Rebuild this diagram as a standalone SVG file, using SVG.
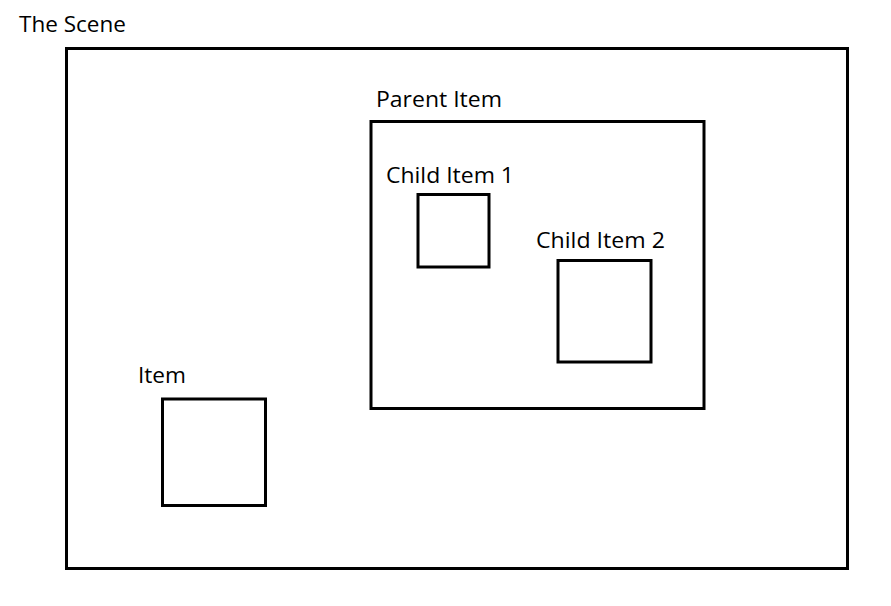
<svg xmlns="http://www.w3.org/2000/svg" width="891" height="606" viewBox="0 0 891 606">
<style>
.box{fill:none;stroke:#000;stroke-width:3}
.lbl{font-family:"Open Sans","Liberation Sans",sans-serif;font-size:22.5px;fill:#000}
</style>
<rect width="891" height="606" fill="#fff"/>
<g id="scene">
<rect class="box" x="66.5" y="48.5" width="781" height="520"/>
<text class="lbl" x="19" y="32" textLength="107" lengthAdjust="spacingAndGlyphs">The Scene</text>
</g>
<g id="parent-item">
<rect class="box" x="371" y="121.5" width="333" height="287"/>
<text class="lbl" x="376" y="107" textLength="126" lengthAdjust="spacingAndGlyphs">Parent Item</text>
</g>
<g id="child-item-1">
<rect class="box" x="418" y="194.5" width="71" height="72.5"/>
<text class="lbl" x="386" y="183" textLength="128" lengthAdjust="spacingAndGlyphs">Child Item 1</text>
</g>
<g id="child-item-2">
<rect class="box" x="558" y="260.5" width="93" height="101.5"/>
<text class="lbl" x="536" y="248" textLength="129" lengthAdjust="spacingAndGlyphs">Child Item 2</text>
</g>
<g id="item">
<rect class="box" x="162.5" y="399" width="103" height="106.5"/>
<text class="lbl" x="138" y="383" textLength="48" lengthAdjust="spacingAndGlyphs">Item</text>
</g>
<g id="connectors"></g>
</svg>
